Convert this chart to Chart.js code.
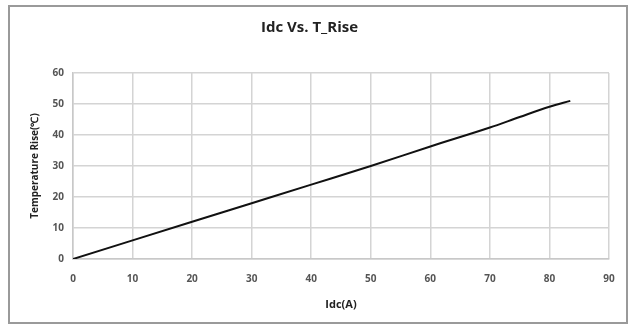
<!DOCTYPE html>
<html>
<head>
<meta charset="utf-8">
<script src="https://cdn.jsdelivr.net/npm/chart.js@4"></script>
<style>
  body { margin: 0; background: #fff; }
  #wrap { position: absolute; left: 8px; top: 5px; width: 616px; height: 315px; border: 2px solid #9a9a9a; }
  canvas { position: absolute; left: 0; top: 0; }
</style>
</head>
<body>
<div id="wrap"></div>
<canvas id="riseChart" width="632" height="325"></canvas>
<script>
const idc = [0, 10, 20, 30, 40, 50, 60, 70, 75, 80, 83.5];
const tempRise = [0, 6, 12, 18, 24, 30, 36.3, 42.4, 45.8, 49.1, 51];
const xTicks = [0, 10, 20, 30, 40, 50, 60, 70, 80, 90];
const yTicks = [0, 10, 20, 30, 40, 50, 60];

const points = idc.map((x, i) => ({ x: x, y: tempRise[i] }));
const tickFont = { family: "Open Sans", size: 10, weight: "bold" };
const gridStyle = { color: "#d4d4d4", lineWidth: 1.5, drawTicks: false };

new Chart(document.getElementById("riseChart"), {
  type: "line",
  data: {
    datasets: [
      {
        label: "T_Rise",
        data: points,
        borderColor: "#111",
        borderWidth: 2,
        pointRadius: 0,
        cubicInterpolationMode: "monotone",
        fill: false,
      },
    ],
  },
  options: {
    responsive: false,
    animation: false,
    layout: { padding: { left: 10, right: 23, top: 0, bottom: 10 } },
    plugins: {
      legend: { display: false },
      tooltip: { enabled: false },
      title: {
        display: true,
        text: "Idc Vs. T_Rise",
        color: "#222",
        font: { family: "Open Sans", size: 15, weight: "bold" },
        padding: { top: 19, bottom: 36 },
      },
    },
    scales: {
      x: {
        type: "linear",
        min: 0,
        max: 90,
        afterBuildTicks: (s) => { s.ticks = xTicks.map((v) => ({ value: v })); },
        afterFit: (s) => { s.height = 56; },
        ticks: { color: "#555", font: tickFont, padding: 14, maxRotation: 0 },
        grid: gridStyle,
        border: { color: "#c8c8c8", width: 1.5 },
        title: {
          display: true,
          text: "Idc(A)",
          color: "#222",
          font: { family: "Open Sans", size: 11, weight: "bold" },
          padding: { top: 4, bottom: 4 },
        },
      },
      y: {
        min: 0,
        max: 60,
        afterBuildTicks: (s) => { s.ticks = yTicks.map((v) => ({ value: v })); },
        afterFit: (s) => { s.width = 63; },
        ticks: { color: "#555", font: tickFont, padding: 9 },
        grid: gridStyle,
        border: { color: "#c8c8c8", width: 1.5 },
        title: {
          display: true,
          text: "Temperature Rise(℃)",
          color: "#222",
          font: { family: "Open Sans", size: 10, weight: "bold" },
          padding: { top: 19, bottom: 0 },
        },
      },
    },
  },
});
</script>
</body>
</html>
